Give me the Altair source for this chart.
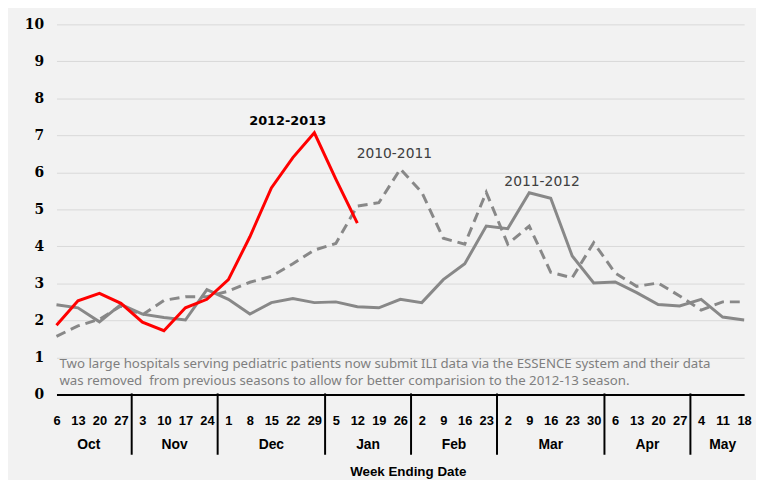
import altair as alt
import pandas as pd

day_labels = ["6", "13", "20", "27", "3", "10", "17", "24", "1", "8", "15", "22", "29",
              "5", "12", "19", "26", "2", "9", "16", "23", "2", "9", "16", "23", "30",
              "6", "13", "20", "27", "4", "11", "18"]
month_names = ["Oct", "Nov", "Dec", "Jan", "Feb", "Mar", "Apr", "May"]
weeks_per_month = [4, 4, 5, 4, 4, 5, 4, 3]

s_2012_13 = [1.87, 2.53, 2.73, 2.46, 1.95, 1.72, 2.34, 2.57, 3.10, 4.26, 5.58, 6.40, 7.07, 5.82, 4.63]
s_2011_12 = [2.42, 2.34, 1.96, 2.43, 2.17, 2.08, 2.01, 2.83, 2.57, 2.17, 2.48, 2.59, 2.48, 2.50,
             2.37, 2.34, 2.57, 2.48, 3.10, 3.53, 4.55, 4.48, 5.45, 5.30, 3.74, 3.01, 3.04, 2.75,
             2.43, 2.39, 2.57, 2.09, 2.01]
s_2010_11 = [1.57, 1.85, 2.03, 2.39, 2.15, 2.54, 2.64, 2.64, 2.79, 3.03, 3.19, 3.53, 3.90, 4.08,
             5.09, 5.18, 6.09, 5.46, 4.22, 4.06, 5.46, 4.06, 4.55, 3.30, 3.15, 4.10, 3.28, 2.92,
             3.01, 2.66, 2.28, 2.50, 2.50]

note_lines = [
    "Two large hospitals serving pediatric patients now submit ILI data via the ESSENCE system and their data",
    "was removed\u00a0 from previous seasons to allow for better comparision to the 2012-13 season.",
]

def series_df(vals, name):
    return pd.DataFrame({"idx": list(range(len(vals))), "value": vals, "season": name})

df10 = series_df(s_2010_11, "2010-2011")
df11 = series_df(s_2011_12, "2011-2012")
df12 = series_df(s_2012_13, "2012-2013")

starts = []
s = 0
for n in weeks_per_month:
    starts.append(s)
    s += n
month_df = pd.DataFrame({
    "month": month_names,
    "idx": [st + (n - 1) / 2 for st, n in zip(starts, weeks_per_month)],
})
sep_df = pd.DataFrame({"idx": [st - 0.5 for st in starts[1:]]})

label_expr = "[" + ",".join("'" + d + "'" for d in day_labels) + "][datum.value]"

xscale = alt.Scale(domain=[0, 32], nice=False, zero=False)
yscale = alt.Scale(domain=[0, 10], nice=False)

X = alt.X("idx:Q", scale=xscale,
          axis=alt.Axis(values=list(range(33)), labelExpr=label_expr, grid=False, ticks=False,
                        domain=True, domainColor="black", domainWidth=2,
                        labelFont="Liberation Sans", labelFontWeight="bold", labelFontSize=13,
                        labelColor="black", labelPadding=20, labelOverlap=False, labelFlush=False,
                        labelBound=False,
                        title="Week Ending Date", titleFont="Liberation Sans", titleFontSize=13.5,
                        titleFontWeight="bold", titleColor="black", titlePadding=38, titleX=355))
Y = alt.Y("value:Q", scale=yscale,
          axis=alt.Axis(values=list(range(11)), grid=True, gridColor="#d9d9d9", gridWidth=1,
                        domain=False, ticks=False, labelFont="DejaVu Serif", labelFontWeight="bold",
                        labelFontSize=14, labelColor="black", labelPadding=13, title=None))

gray = "#888888"

line10 = alt.Chart(df10).mark_line(color=gray, strokeWidth=3, strokeDash=[10, 6]).encode(x=X, y=Y)
line11 = alt.Chart(df11).mark_line(color=gray, strokeWidth=3).encode(x=X, y=Y)
line12 = alt.Chart(df12).mark_line(color="#ff0000", strokeWidth=3).encode(x=X, y=Y)

def peak_label(df, dx, dy, color, weight, size):
    pk = df[df["value"] == df["value"].max()]
    return alt.Chart(pk).mark_text(dx=dx, dy=dy, color=color, fontWeight=weight, fontSize=size,
                                   font="DejaVu Sans", baseline="middle", align="center").encode(
        x=X, y=Y, text="season:N")

lab12 = peak_label(df12, -27, -12, "black", "bold", 13)
lab10 = peak_label(df10, -6, -15, "#404040", "normal", 14)
lab11 = peak_label(df11, 13, -11, "#404040", "normal", 14)

seps = alt.Chart(sep_df).mark_rule(color="black", strokeWidth=2).encode(
    x=X, y=alt.value(373), y2=alt.value(435))
months = alt.Chart(month_df).mark_text(font="Liberation Sans", fontWeight="bold", fontSize=14,
                                       color="black", baseline="middle").encode(
    x=X, y=alt.value(425), text="month:N")

note_df = pd.DataFrame({"note": ["\n".join(note_lines)]})
note = alt.Chart(note_df).mark_text(font="Noto Sans", fontSize=13.4, color="#7f7f7f", align="left",
                                    baseline="middle", lineBreak="\n", lineHeight=18).encode(
    x=alt.value(3), y=alt.value(343), text="note:N")

chart = alt.layer(line10, line11, line12, lab12, lab10, lab11, seps, months, note).properties(
    width=695, height=374, background="#f2f2f2",
    autosize=alt.AutoSizeParams(type="none"),
    padding={"left": 49, "top": 14, "right": 12, "bottom": 84},
).configure_view(stroke=None).configure_axis(labelOverlap=False)

chart.save("out.html", embed_options={"renderer": "svg", "actions": False})
